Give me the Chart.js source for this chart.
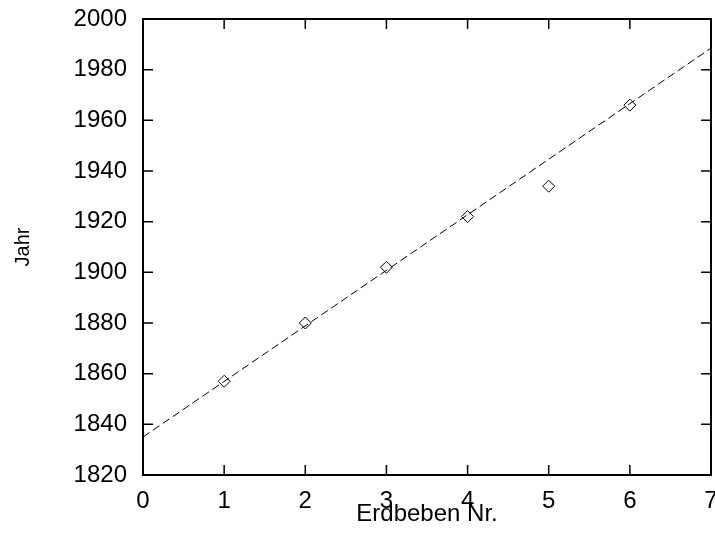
<!DOCTYPE html>
<html>
<head>
<meta charset="utf-8">
<script src="https://cdn.jsdelivr.net/npm/chart.js@4.4.1/dist/chart.umd.min.js"></script>
<style>
html,body{margin:0;padding:0;background:#fff;}
canvas{display:block;}
</style>
</head>
<body>
<canvas id="c" width="715" height="535"></canvas>
<script>
// Data
const quakeNumbers = [1, 2, 3, 4, 5, 6];
const quakeYears = [1857, 1880, 1902, 1922, 1934, 1966];
const fitX = [0, 7];
const fitY = [1835, 1988.5];
const xTicks = [0, 1, 2, 3, 4, 5, 6, 7];
const yTicks = [1820, 1840, 1860, 1880, 1900, 1920, 1940, 1960, 1980, 2000];

const FONT = "'Liberation Sans', Arial, sans-serif";

const framePlugin = {
  id: 'frame',
  afterDraw(chart) {
    const {ctx, chartArea: a, scales: {x, y}} = chart;
    ctx.save();
    ctx.strokeStyle = '#000';
    ctx.lineWidth = 1.5;
    const T = 10;
    ctx.beginPath();
    xTicks.forEach(v => {
      const px = x.getPixelForValue(v);
      ctx.moveTo(px, a.bottom); ctx.lineTo(px, a.bottom - T);
      ctx.moveTo(px, a.top); ctx.lineTo(px, a.top + T);
    });
    yTicks.forEach(v => {
      const py = y.getPixelForValue(v);
      ctx.moveTo(a.left, py); ctx.lineTo(a.left + T, py);
      ctx.moveTo(a.right, py); ctx.lineTo(a.right - T, py);
    });
    ctx.stroke();
    ctx.lineWidth = 2;
    ctx.strokeRect(a.left, a.top, a.right - a.left, a.bottom - a.top);
    ctx.restore();
  }
};

new Chart(document.getElementById('c'), {
  type: 'scatter',
  data: {
    datasets: [
      {
        label: 'Fit',
        data: fitX.map((v, i) => ({x: v, y: fitY[i]})),
        showLine: true,
        borderColor: '#000',
        borderWidth: 1,
        borderDash: [8, 4],
        pointRadius: 0,
        fill: false
      },
      {
        label: 'Erdbeben',
        data: quakeNumbers.map((v, i) => ({x: v, y: quakeYears[i]})),
        pointStyle: 'rectRot',
        pointRadius: 6,
        pointBorderColor: '#000',
        pointBackgroundColor: 'rgba(0,0,0,0)',
        pointBorderWidth: 1
      }
    ]
  },
  options: {
    responsive: false,
    devicePixelRatio: 1,
    animation: false,
    layout: {autoPadding: false, padding: {top: 19, right: 4, left: 0, bottom: 0}},
    plugins: {legend: {display: false}, tooltip: {enabled: false}},
    scales: {
      x: {
        type: 'linear', min: 0, max: 7,
        afterBuildTicks: s => { s.ticks = xTicks.map(v => ({value: v})); },
        ticks: {color: '#000', font: {family: FONT, size: 24}, padding: 12, callback: v => String(v)},
        grid: {display: false, drawTicks: false},
        border: {display: false},
        title: {display: true, text: 'Erdbeben Nr.', color: '#000', font: {family: FONT, size: 24}, padding: {top: 0, bottom: 6}},
        afterFit: s => { s.height = 60; s.paddingLeft = 0; s.paddingRight = 0; }
      },
      y: {
        type: 'linear', min: 1820, max: 2000,
        afterBuildTicks: s => { s.ticks = yTicks.map(v => ({value: v})); },
        ticks: {color: '#000', font: {family: FONT, size: 24}, padding: 16, callback: v => String(v)},
        grid: {display: false, drawTicks: false},
        border: {display: false},
        title: {display: true, text: 'Jahr', color: '#000', font: {family: FONT, size: 20}, padding: {top: 11, bottom: 0}},
        afterFit: s => { s.width = 143; s.paddingTop = 0; s.paddingBottom = 0; }
      }
    }
  },
  plugins: [framePlugin]
});
</script>
</body>
</html>
